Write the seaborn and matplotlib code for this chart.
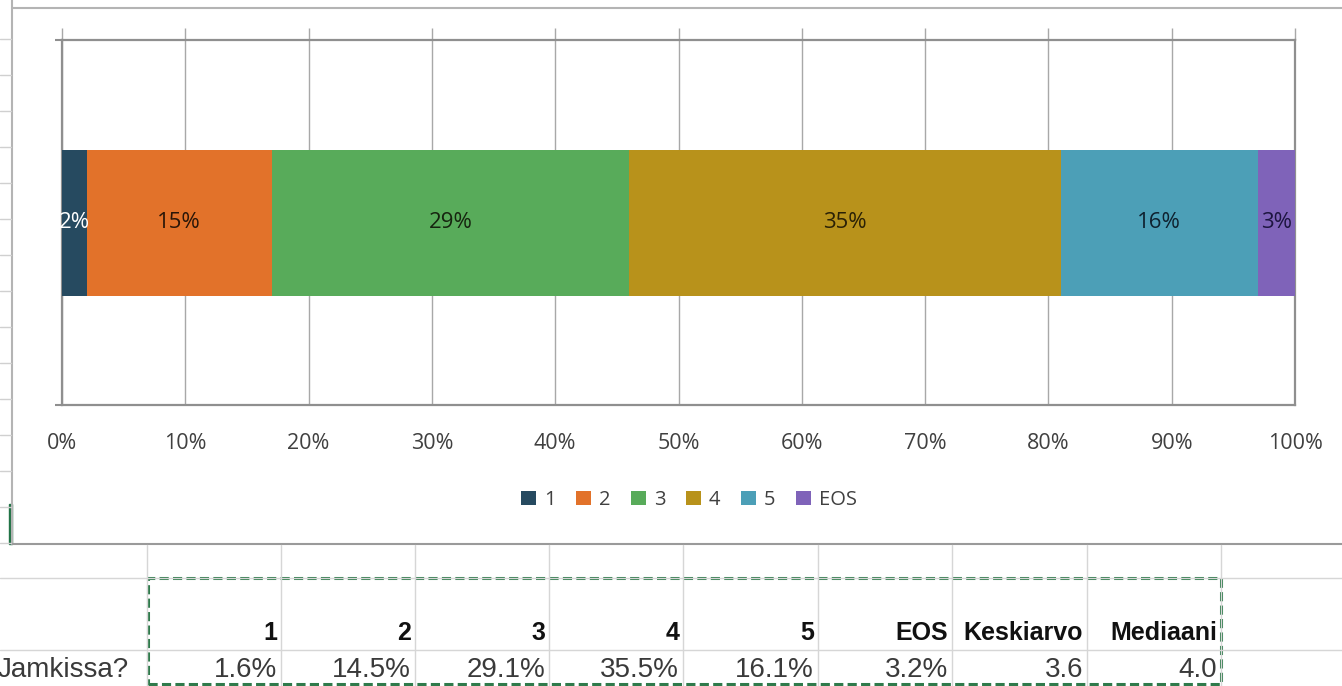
import numpy as np
import pandas as pd
import seaborn as sns
import matplotlib
matplotlib.use("Agg")
from matplotlib import pyplot as plt
from matplotlib.lines import Line2D
from matplotlib.patches import Patch, Rectangle

# data
categories = ["1", "2", "3", "4", "5", "EOS"]
chart_pct = [2, 15, 29, 35, 16, 3]            # rounded values shown in the bar
table_pct = [1.6, 14.5, 29.1, 35.5, 16.1, 3.2]  # values in the sheet below
row_label = "Jamkissa?"
extra_headers = ["Keskiarvo", "Mediaani"]
extra_values = [3.6, 4.0]
tick_values = [0, 10, 20, 30, 40, 50, 60, 70, 80, 90, 100]

colors = ["#264a60", "#e2722a", "#58ab5a", "#b8921b", "#4c9fb7", "#7f63b9"]
label_colors = ["white", "#2a1608", "#16240f", "#2a2106", "#0f2230", "#1d1540"]

W, H = 1342, 686


def fx(x):
    return x / W


def fy(y):
    return 1 - y / H


sns.set_theme(style="white")
plt.rcParams['font.family'] = ['Open Sans', 'DejaVu Sans']

fig = plt.figure(figsize=(W / 100, H / 100), dpi=100)
ax = fig.add_axes([fx(62), fy(405), fx(1295) - fx(62), fy(40) - fy(405)])

df = pd.DataFrame({"answer": categories, "pct": chart_pct})
df["end"] = df["pct"].cumsum()
df["start"] = df["end"] - df["pct"]
df["row"] = row_label

# stacked bar: draw cumulative bars from longest to shortest
for i in reversed(range(len(df))):
    sns.barplot(data=df.iloc[[i]], x="end", y="row", color=colors[i],
                saturation=1, width=0.4, orient="h", errorbar=None,
                linewidth=0, ax=ax, zorder=3)

for i, r in df.iterrows():
    ax.text(r["start"] + r["pct"] / 2, 0, f"{r['pct']}%", ha="center",
            va="center", fontsize=16, color=label_colors[i], zorder=5)

ax.set_xlim(0, 100)
ax.set_ylim(0.5, -0.5)
ax.set_xticks(tick_values)
ax.set_xticklabels([f"{v}%" for v in tick_values])
ax.set_yticks([-0.5, 0.5])
ax.set_yticklabels([])
ax.set_xlabel("")
ax.set_ylabel("")
ax.grid(axis="x", color="#a8a8a8", lw=1.0, zorder=1)
for s in ax.spines.values():
    s.set_color("#8f8f8f")
    s.set_linewidth(1.6)
ax.tick_params(axis="x", top=True, bottom=False, direction="out", length=8.5,
               width=1.0, color="#a8a8a8", pad=11.5, labelsize=15.5,
               labelcolor="#404040")
ax.tick_params(axis="y", left=True, direction="out", length=5, width=1.5,
               color="#8f8f8f")

handles = [Patch(facecolor=c, edgecolor="none", label=l) for c, l in zip(colors, categories)]
fig.legend(handles=handles, loc="center", bbox_to_anchor=(fx(689), fy(500)),
           ncol=6, frameon=False, fontsize=14.5, handlelength=0.75,
           handleheight=0.75, handletextpad=0.4, columnspacing=1.0,
           labelcolor="#404040")

# chart object border
gray = "#b4b4b4"
fig.add_artist(Line2D([fx(12), fx(W)], [fy(8), fy(8)], color=gray, lw=1.5, transform=fig.transFigure))
fig.add_artist(Line2D([fx(12), fx(12)], [fy(0), fy(544)], color=gray, lw=1.5, transform=fig.transFigure))
fig.add_artist(Line2D([fx(12), fx(W)], [fy(544), fy(544)], color="#9a9a9a", lw=1.5, transform=fig.transFigure))
# sheet row lines peeking out on the left
for y in np.arange(39, 544, 36):
    fig.add_artist(Line2D([fx(0), fx(11)], [fy(y), fy(y)], color="#d0d0d0", lw=1, transform=fig.transFigure))
fig.add_artist(Rectangle((fx(9), fy(544)), fx(3), fy(504) - fy(544), color="#217346",
                         transform=fig.transFigure))

# sheet grid below the chart
col_edges = [147, 281, 415, 549, 683, 818, 952, 1087, 1221]
grid = "#d6d6d6"
for y in [578, 650]:
    fig.add_artist(Line2D([0, 1], [fy(y), fy(y)], color=grid, lw=1, transform=fig.transFigure))
for x in col_edges:
    fig.add_artist(Line2D([fx(x), fx(x)], [fy(545), 0], color=grid, lw=1, transform=fig.transFigure))

# copy marquee around the table
fig.add_artist(Rectangle((fx(148), fy(684)), fx(1221) - fx(148), fy(578) - fy(684),
                         fill=False, edgecolor="#2f7a4b", lw=2.2, ls=(0, (3.0, 1.4)),
                         transform=fig.transFigure))

table_font = ['Liberation Sans', 'DejaVu Sans']
headers = categories + extra_headers
values = [f"{v:.1f}%" for v in table_pct] + [f"{v:.1f}" for v in extra_values]
for j, (h, v) in enumerate(zip(headers, values)):
    xr = fx(col_edges[j + 1] - 4)
    fig.text(xr, fy(633), h, ha="right", va="center", fontsize=18,
             fontweight="bold", color="#111111", family=table_font)
    fig.text(xr, fy(670), v, ha="right", va="center", fontsize=20,
             color="#3a3a3a", family=table_font)
fig.text(fx(-2), fy(670), row_label, ha="left", va="center", fontsize=20,
         color="#3a3a3a", family=table_font)

fig.savefig("out.png", dpi=100)
